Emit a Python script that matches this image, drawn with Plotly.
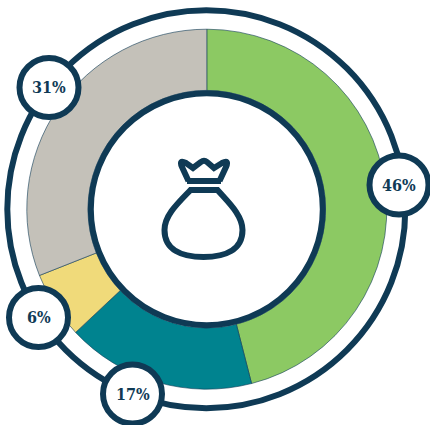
import plotly.graph_objects as go

categories = ["A", "B", "C", "D"]
values = [46, 17, 6, 31]
colors = ["#8CC963", "#00838F", "#F0DA7A", "#C4C1B9"]
badge_centres = [(399, 185), (132.5, 394), (38.5, 317.5), (49, 87.5)]

W, H = 430, 425
NAVY = "#0F3A55"
CX, CY = 206.8, 209.2
PIE_R = 180


def fx(x):
    return x / W


def fy(y):
    return 1 - y / H


def circle(cx, cy, r, lw, fill="white"):
    return dict(type="circle", xref="paper", yref="paper", layer="above",
                x0=fx(cx - r), x1=fx(cx + r), y0=fy(cy + r), y1=fy(cy - r),
                line=dict(color=NAVY, width=lw), fillcolor=fill)


def path(cmds, lw=6, fill="rgba(0,0,0,0)"):
    out = []
    for c in cmds:
        if c == "Z":
            out.append("Z")
        else:
            op, pts = c[0], c[1:]
            out.append(op + " ".join(f"{fx(x):.5f},{fy(y):.5f}" for x, y in pts))
    return dict(type="path", xref="paper", yref="paper", layer="above",
                path=" ".join(out), line=dict(color=NAVY, width=lw), fillcolor=fill)


fig = go.Figure(go.Pie(
    labels=categories, values=values, sort=False, direction="clockwise",
    rotation=0, hole=0.66, textinfo="none", hoverinfo="label+percent",
    marker=dict(colors=colors, line=dict(color=NAVY, width=0.6)),
    domain=dict(x=[fx(CX - PIE_R), fx(CX + PIE_R)], y=[fy(CY + PIE_R), fy(CY - PIE_R)]),
    showlegend=False,
))

shapes = [circle(CX - 0.5, CY, 199, 6, "rgba(0,0,0,0)"), circle(CX, CY, 116, 6)]
shapes += [circle(x, y, 29.5, 6) for x, y in badge_centres]

# money bag icon: crown, band, body
shapes.append(path([
    ("M", (188.5, 181)), ("L", (182, 167)),
    ("Q", (178.5, 159), (186, 163)), ("L", (193, 168)),
    ("L", (201, 162)), ("Q", (204, 159.5), (207, 162)),
    ("L", (214, 168)), ("L", (222, 163)),
    ("Q", (229.5, 159), (226, 167)), ("L", (219.5, 181)),
]))
shapes.append(path([("M", (187, 181)), ("L", (221, 181))]))
shapes.append(path([
    ("M", (190.5, 190)), ("L", (217.5, 190)),
    ("C", (228, 202), (242.5, 215), (242.5, 230)),
    ("C", (242.5, 250), (225, 257), (203.5, 257)),
    ("C", (182, 257), (164.5, 250), (164.5, 230)),
    ("C", (164.5, 215), (179, 202), (190.5, 190)),
    "Z",
]))

annotations = [
    dict(x=fx(x), y=fy(y), xref="paper", yref="paper", text=f"<b>{v}%</b>",
         showarrow=False, xanchor="center", yanchor="middle",
         font=dict(family="DejaVu Serif Condensed, DejaVu Serif", size=16, color=NAVY))
    for (x, y), v in zip(badge_centres, values)
]

fig.update_layout(width=W, height=H, margin=dict(l=0, r=0, t=0, b=0),
                  paper_bgcolor="white", plot_bgcolor="white",
                  shapes=shapes, annotations=annotations)
fig.write_html("out.html", config=dict(displayModeBar=False),
               post_script="document.body.style.margin='0';document.body.style.overflow='hidden';")
